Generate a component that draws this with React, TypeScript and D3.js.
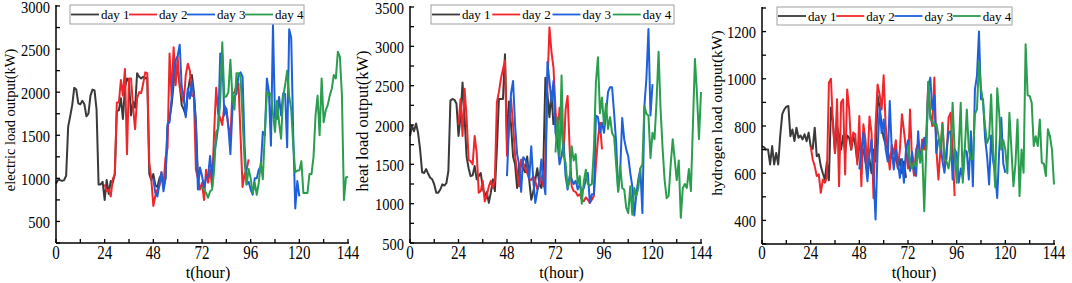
import React from 'react';
import * as d3 from 'd3';

const dayLabels = ['day 1', 'day 2', 'day 3', 'day 4'];
const dayStarts = [0, 24, 48, 72];
const dayColors = ['#3a3a3a', '#f0262b', '#1e5fdc', '#2a9e4e'];
const xTickLabels = [0, 24, 48, 72, 96, 120, 144];

const electricDay1 = [
  940, 980, 980, 970, 980, 1030, 1600, 1720, 1850, 2050, 2030, 1870, 1860, 1900, 1860, 1720, 1750, 1960, 2030, 2020, 1800, 930, 930, 960,
  750, 980, 820, 970, 950, 1050, 1780, 1790, 1930, 1690, 2050, 2160, 2120, 1730, 1890, 1820, 2220, 2180, 2160, 2180, 2160, 2170, 1050, 980,
  1050, 920, 900, 1000, 1050, 900, 1000, 1600, 1700, 1850, 2100, 2300, 2250, 2100, 1850, 1800, 1730, 2000, 2150, 2200, 2000, 1650, 1000, 1100,
];
const electricDay2 = [
  930, 850, 870, 790, 990, 1050, 1880, 1880, 2140, 1960, 2270, 1280, 2160, 2160, 1830, 1570, 1930, 2000, 1990, 2100, 2230, 2220, 1180, 990,
  680, 800, 870, 910, 1070, 910, 1240, 1350, 2450, 1950, 2520, 2080, 2410, 2060, 1960, 1880, 2200, 2330, 2250, 1960, 1950, 1100, 1000, 870,
  950, 750, 1100, 950, 1100, 900, 1550, 2050, 1750, 1700, 1620, 1850, 1800, 1600, 1480, 1980, 2000, 2070, 2100, 1500, 900, 1050, 1100, 1220,
];
const electricDay3 = [
  1000, 830, 790, 930, 1070, 850, 1000, 1630, 1650, 1925, 2200, 2375, 2420, 2550, 2060, 1945, 1710, 2040, 1925, 2120, 1965, 1630, 870, 1125,
  1030, 900, 1000, 1030, 1260, 990, 1300, 1420, 1610, 2450, 2430, 1730, 1810, 1600, 1280, 1790, 1960, 1980, 2200, 2230, 2180, 1380, 930, 960,
  870, 810, 1000, 1000, 1100, 1140, 1540, 1500, 2160, 2000, 1380, 2780, 1700, 1690, 1945, 1730, 1985, 1980, 1360, 2730, 2630, 1500, 650, 970, 790,
];
const electricDay4 = [
  900, 870, 830, 775, 850, 870, 1100, 1540, 1575, 1900, 2580, 1945, 1950, 2000, 2375, 1940, 1800, 2220, 2220, 2180, 1700, 1200, 930, 1110,
  1000, 830, 950, 810, 950, 1180, 990, 1540, 2000, 1965, 1985, 1750, 1540, 1900, 1650, 1460, 1950, 2080, 2250, 1950, 1800, 1380, 1070, 1090,
  1090, 1200, 830, 830, 830, 1050, 1050, 1250, 1730, 1960, 1500, 2160, 1650, 1790, 1850, 1960, 2040, 2200, 2160, 2470, 2410, 1965, 750, 1010, 1020,
];

const heatDay1 = [
  1860, 1990, 1920, 2020, 1900, 1690, 1400, 1390, 1440, 1380, 1330, 1310, 1245, 1140, 1140, 1180, 1245, 1230, 1260, 1415, 2310, 2330, 2320, 2270,
  1860, 2100, 2540, 2100, 1600, 1450, 1350, 1360, 1480, 1310, 1350, 1390, 1200, 1100, 1150, 1010, 1140, 1310, 1160, 1700, 2330, 2330, 2330, 2900,
  1800, 2300, 2000, 1600, 1500, 1200, 1500, 1500, 1450, 1400, 1600, 1300, 1050, 1150, 1300, 1450, 1250, 1200, 1500, 2600, 2400, 2100, 2400, 2000,
];
const heatDay2 = [
  2000, 2330, 1860, 2460, 2100, 1560, 1540, 1500, 1860, 1650, 1140, 1160, 1290, 1030, 1100, 1220, 1290, 1200, 1300, 2290, 2420, 2590, 2710, 2820,
  1610, 2000, 2330, 2000, 1610, 1400, 1220, 1560, 1520, 1450, 1390, 1310, 1300, 1350, 1290, 1180, 1245, 1350, 1220, 1560, 2500, 3240, 2930, 2730,
  2200, 1820, 2220, 1990, 1600, 2200, 2370, 1700, 1220, 1160, 1150, 1100, 1120, 1050, 1030, 1080, 1050, 1010, 1050, 1100, 1500, 1820, 2030, 1690,
];
const heatDay3 = [
  1350, 2000, 2400, 2560, 2000, 1630, 1500, 1150, 1590, 1560, 1500, 1310, 1730, 1300, 1010, 1160, 1300, 1560, 1300, 1120, 2800, 2560, 2290, 2560,
  1900, 1780, 1500, 1610, 1780, 1350, 1180, 1350, 1310, 1250, 1290, 1180, 1250, 1140, 1200, 1300, 1390, 1010, 1120, 1120, 2120, 2100, 1900, 2030,
  1900, 2140, 2420, 2480, 2480, 2150, 1780, 1160, 1400, 2090, 1820, 1690, 1600, 1390, 1220, 850, 1120, 1310, 1440, 880, 2240, 2600, 3220, 2120, 2520,
];
const heatDay4 = [
  1650, 2100, 1600, 2630, 1610, 1520, 1200, 1290, 1730, 1550, 1630, 1250, 1350, 1000, 1280, 1430, 1250, 1230, 1250, 1700, 2540, 2860, 2150, 2350,
  2000, 2270, 1950, 2100, 1900, 1850, 1500, 1150, 1480, 1200, 1180, 950, 880, 1220, 860, 1200, 1100, 1200, 1450, 1500, 2240, 2140, 2120, 1580,
  1900, 1820, 2300, 2930, 2200, 1700, 1300, 1070, 1100, 1500, 1820, 1560, 1300, 1550, 820, 1200, 1250, 1200, 1440, 1160, 2000, 2840, 2400, 1820, 2420,
];

const hydrogenDay1 = [
  715, 710, 700, 700, 637, 715, 637, 686, 637, 760, 850, 870, 882, 885, 757, 785, 736, 793, 750, 760, 743, 765, 735, 772,
  715, 703, 793, 672, 680, 630, 600, 573, 647, 570, 878, 820, 686, 800, 760, 700, 760, 690, 760, 750, 700, 760, 720, 650,
  720, 690, 700, 650, 620, 660, 600, 700, 650, 930, 880, 800, 750, 720, 700, 650, 690, 640, 680, 620, 660, 600, 650, 580,
];
const hydrogenDay2 = [
  715, 658, 630, 588, 595, 517, 573, 560, 580, 984, 1000, 800, 686, 913, 545, 900, 913, 595, 955, 870, 700, 772, 765, 637,
  842, 545, 807, 743, 630, 840, 772, 495, 800, 976, 934, 870, 1015, 800, 700, 616, 720, 680, 740, 620, 700, 850, 780, 700,
  620, 870, 650, 590, 700, 729, 650, 743, 700, 760, 984, 850, 800, 1005, 700, 573, 700, 814, 640, 660, 835, 856, 700, 503,
];
const hydrogenDay3 = [
  616, 700, 772, 650, 566, 680, 743, 600, 404, 700, 878, 770, 828, 700, 650, 906, 700, 616, 700, 650, 580, 660, 560, 700,
  740, 610, 690, 630, 588, 778, 650, 700, 750, 700, 970, 1005, 870, 927, 686, 743, 729, 650, 602, 700, 772, 778, 573, 700,
  686, 560, 620, 580, 700, 690, 573, 778, 545, 955, 1012, 1200, 913, 913, 750, 672, 552, 760, 650, 600, 495, 700, 835, 640, 602,
];
const hydrogenDay4 = [
  720, 640, 620, 644, 630, 700, 644, 700, 439, 700, 988, 830, 820, 800, 810, 760, 700, 807, 660, 650, 620, 680, 899, 700,
  560, 700, 899, 560, 700, 870, 700, 658, 660, 850, 870, 1070, 960, 900, 800, 729, 750, 934, 700, 540, 960, 850, 700, 740,
  700, 600, 856, 700, 545, 640, 828, 503, 700, 602, 1146, 930, 927, 899, 715, 757, 715, 828, 644, 640, 588, 786, 757, 700, 552,
];

const electricTicks = [500, 1000, 1500, 2000, 2500, 3000];
const heatTicks = [500, 1000, 1500, 2000, 2500, 3000, 3500];
const hydrogenTicks = [400, 600, 800, 1000, 1200];

const FONT = "'Liberation Serif', 'Times New Roman', serif";

type Panel = {
  x0: number; x1: number; yTop: number; yBot: number;
  domain: [number, number]; ticks: number[]; minor: number;
  title: string; titleSize: number; titleX: number; titleY: number;
  legend: { x: number; y: number; w: number; h: number };
  series: number[][];
};

const panels: Panel[] = [
  {
    x0: 56, x1: 348, yTop: 6, yBot: 243, domain: [250, 3000], ticks: electricTicks, minor: 250,
    title: 'electric load output(kW)', titleSize: 14.5, titleX: 15, titleY: 120,
    legend: { x: 70, y: 5, w: 234, h: 19 },
    series: [electricDay1, electricDay2, electricDay3, electricDay4],
  },
  {
    x0: 410, x1: 701, yTop: 7, yBot: 243, domain: [500, 3500], ticks: heatTicks, minor: 250,
    title: 'heat load output(kW)', titleSize: 16.5, titleX: 368, titleY: 121,
    legend: { x: 431, y: 5, w: 243, h: 19 },
    series: [heatDay1, heatDay2, heatDay3, heatDay4],
  },
  {
    x0: 762, x1: 1054, yTop: 8, yBot: 244, domain: [300, 1300], ticks: hydrogenTicks, minor: 100,
    title: 'hydrogen load output(kW)', titleSize: 15.5, titleX: 722, titleY: 113,
    legend: { x: 777, y: 7, w: 235, h: 18 },
    series: [hydrogenDay1, hydrogenDay2, hydrogenDay3, hydrogenDay4],
  },
];

function PanelView({ p }: { p: Panel }) {
  const x = d3.scaleLinear().domain([0, 144]).range([p.x0, p.x1]);
  const y = d3.scaleLinear().domain(p.domain).range([p.yBot, p.yTop]);
  const xMinor = d3.range(0, 145, 12);
  const yMinor = d3.range(p.domain[0], p.domain[1] + 0.1, p.minor);
  const legendPitch = (p.legend.w - 2) / 4;
  return (
    <g>
      {p.series.map((vals, si) => {
        const line = d3.line<number>()
          .x((_, i) => x(dayStarts[si] + i))
          .y((d) => y(d));
        return (
          <path key={si} d={line(vals) || ''} fill="none" stroke={dayColors[si]}
            strokeWidth={2} strokeLinejoin="round" />
        );
      })}
      <line x1={p.x0} x2={p.x0} y1={p.yTop - 1} y2={p.yBot} stroke="#000" strokeWidth={1.5} />
      <line x1={p.x0} x2={p.x1 + 1} y1={p.yBot} y2={p.yBot} stroke="#000" strokeWidth={1.5} />
      {xMinor.map((t) => (
        <line key={'xt' + t} x1={x(t)} x2={x(t)} y1={p.yBot} y2={p.yBot - 4} stroke="#000" strokeWidth={1.3} />
      ))}
      {yMinor.map((t) => (
        <line key={'yt' + t} x1={p.x0} x2={p.x0 + 4} y1={y(t)} y2={y(t)} stroke="#000" strokeWidth={1.3} />
      ))}
      {xTickLabels.map((t) => (
        <text key={'xl' + t} transform={`translate(${x(t)},259) scale(1,1.2)`} textAnchor="middle"
          fontSize={15} fontFamily={FONT}>{t}</text>
      ))}
      {p.ticks.map((t) => (
        <text key={'yl' + t} transform={`translate(${p.x0 - 6},${y(t) + 6.5}) scale(1,1.2)`} textAnchor="end"
          fontSize={14.5} fontFamily={FONT}>{t}</text>
      ))}
      <text x={(p.x0 + p.x1) / 2 + 6} y={278} textAnchor="middle" fontSize={16} fontFamily={FONT}>t(hour)</text>
      <text transform={`translate(${p.titleX},${p.titleY}) rotate(-90)`} textAnchor="middle"
        fontSize={p.titleSize} fontFamily={FONT}>{p.title}</text>
      <rect x={p.legend.x} y={p.legend.y} width={p.legend.w} height={p.legend.h} fill="#fff" stroke="#a0a0a0" strokeWidth={1} />
      {dayLabels.map((lab, i) => {
        const sx = p.legend.x + 1 + i * legendPitch;
        const cy = p.legend.y + p.legend.h / 2;
        return (
          <g key={lab}>
            <line x1={sx} x2={sx + 28} y1={cy} y2={cy} stroke={dayColors[i]} strokeWidth={1.8} />
            <text x={sx + 30} y={cy} dy="0.35em" fontSize={13} fontFamily={FONT}>{lab}</text>
          </g>
        );
      })}
    </g>
  );
}

export default function App() {
  return (
    <svg width={1072} height={283} style={{ position: 'absolute', left: 0, top: 0, background: '#fff' }}>
      <rect x={0} y={0} width={1072} height={283} fill="#fff" />
      {panels.map((p, i) => <PanelView key={i} p={p} />)}
    </svg>
  );
}
